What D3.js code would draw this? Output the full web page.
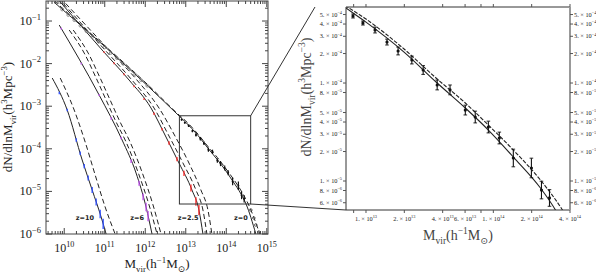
<!DOCTYPE html>
<html><head><meta charset="utf-8">
<script src="https://cdn.jsdelivr.net/npm/d3@7"></script>
<style>body{margin:0;background:#fff}svg{display:block}</style>
</head><body>
<script>
// ---------- DATA (log10 M [h^-1 Msun], log10 dN/dlnM [h^3 Mpc^-3]) ----------
const z10Solid  = [[9.704,-2.339],[10.074,-3.090],[10.443,-4.263],[10.690,-4.967],[10.911,-5.601],[11.034,-6.0]];
const z10Dash   = [[9.901,-2.339],[10.246,-3.090],[10.517,-3.841],[10.764,-4.615],[11.010,-5.366],[11.256,-6.0]];
const z6Solid   = [[9.877,-1.095],[10.862,-2.738],[11.429,-3.794],[11.773,-4.568],[12.020,-5.366],[12.167,-6.0]];
const z6DashA   = [[10.123,-1.212],[10.493,-1.752],[10.788,-2.339],[11.034,-2.855],[11.281,-3.371],[11.527,-3.841],[11.847,-4.615],[12.094,-5.319],[12.291,-6.0]];
const z6DashB   = [[10.222,-1.212],[10.591,-1.752],[10.887,-2.339],[11.133,-2.855],[11.379,-3.371],[11.626,-3.841],[11.946,-4.615],[12.192,-5.319],[12.389,-6.0]];
const z25Solid  = [[9.80,-0.44],[9.926,-0.578],[10.936,-1.682],[11.601,-2.386],[12.143,-3.043],[12.512,-3.723],[12.833,-4.334],[13.153,-4.967],[13.325,-5.437],[13.424,-6.0]];
const z25DashA  = [[9.85,-0.45],[10.961,-1.634],[11.650,-2.362],[12.217,-3.043],[12.586,-3.700],[12.931,-4.334],[13.251,-4.967],[13.424,-5.437],[13.522,-6.0]];
const z25DashB  = [[9.90,-0.45],[11.059,-1.634],[11.773,-2.362],[12.340,-3.043],[12.734,-3.700],[13.079,-4.334],[13.374,-4.967],[13.547,-5.437],[13.645,-6.0]];
const z0Solid   = [[9.75,-0.56],[9.83,-0.625],[12.09,-2.55],[12.843,-3.235],[13.0,-3.378],[13.299,-3.684],[13.559,-4.0],[13.78,-4.255],[13.961,-4.48],[14.157,-4.755],[14.37,-5.071],[14.488,-5.296],[14.73,-6.0]];
const z0Dash    = [[9.75,-0.52],[9.83,-0.59],[12.09,-2.52],[12.843,-3.214],[13.0,-3.347],[13.299,-3.653],[13.559,-3.959],[13.78,-4.204],[13.961,-4.429],[14.157,-4.684],[14.37,-4.99],[14.543,-5.296],[14.828,-6.0]];

// simulation points
const z10M = [9.877,10.074,10.296,10.394,10.493,10.591,10.690,10.788,10.887,10.961];
const z10N = [-2.688,-3.090,-3.794,-4.106,-4.404,-4.686,-4.967,-5.249,-5.531,-5.761];
const z10E = [0.03,0.03,0.04,0.04,0.05,0.06,0.07,0.08,0.10,0.12];
const z6M  = [9.926,10.419,10.862,11.158,11.404,11.650,11.847,11.946,12.020,12.069];
const z6N  = [-1.177,-1.998,-2.738,-3.289,-3.747,-4.291,-4.808,-5.127,-5.366,-5.578];
const z6E  = [0.02,0.02,0.02,0.03,0.03,0.04,0.06,0.08,0.10,0.12];
const z25M = [10.985,11.232,11.478,11.724,11.970,12.217,12.414,12.586,12.783,12.956,13.128,13.251,13.325];
const z25N = [-1.733,-1.994,-2.254,-2.536,-2.834,-3.179,-3.543,-3.864,-4.240,-4.578,-4.920,-5.235,-5.437];
const z25E = [0.02,0.02,0.02,0.02,0.02,0.03,0.03,0.04,0.05,0.06,0.08,0.10,0.12];
const z0LowM = [9.95,10.1,10.25,10.4,10.55,10.7,10.85,11.0,11.15,11.3,11.45,11.6,11.75,11.9,12.05];
const z0LowN = [-0.73,-0.86,-0.98,-1.11,-1.24,-1.37,-1.49,-1.62,-1.75,-1.87,-2.0,-2.13,-2.26,-2.39,-2.52];
const z0M  = [12.898,12.976,13.071,13.165,13.252,13.36,13.449,13.559,13.66,13.78,13.858,13.961,14.047,14.157,14.299,14.378,14.441];
const z0N  = [-3.316,-3.388,-3.459,-3.582,-3.673,-3.765,-3.867,-4.02,-4.07,-4.276,-4.347,-4.449,-4.561,-4.765,-4.867,-5.092,-5.173];
const z0E  = [0.02,0.02,0.03,0.03,0.04,0.04,0.045,0.05,0.05,0.05,0.06,0.06,0.06,0.09,0.10,0.09,0.085];
const z0TailM = [14.606,14.680,14.729,14.803];
const z0TailN = [-5.437,-5.624,-5.789,-5.953];

const zLabels = ["z=10","z=6","z=2.5","z=0"];
const zLabelM = [10.51,11.80,13.06,14.36];
const zLabelN = -5.67;

const leftYTicks = [-6,-5,-4,-3,-2,-1];
const leftXTicks = [10,11,12,13,14,15];
const rightYTicks = [[5,-4],[4,-4],[3,-4],[2,-4],[1,-4],[8,-5],[5,-5],[4,-5],[3,-5],[2,-5],[1,-5],[8,-6],[6,-6]];
const rightXLabels = [[1,13],[2,13],[4,13],[6,13],[1,14],[2,14],[4,14]];
const rightXTicks = [[8,12],[1,13],[2,13],[4,13],[6,13],[8,13],[1,14],[2,14],[4,14]];

// ---------- LAYOUT ----------
const W = 596, H = 273;
const serif = "'Liberation Serif','DejaVu Serif',serif";
const ink = "#222";
const svg = d3.select("body").append("svg").attr("width", W).attr("height", H);

const xL = d3.scaleLog().domain([10**9.55, 10**15.03]).range([46, 268]);
const yL = d3.scaleLog().domain([1e-6, 10**-0.53]).range([234, 1]);
const xR = d3.scaleLog().domain([10**12.843, 4e14]).range([346, 570]);
const yR = d3.scaleLog().domain([5.06e-6, 5.97e-4]).range([210, 7]);

const P = v => Math.pow(10, v);

function richText(g, parts, fs) {
  let shift = 0;
  parts.forEach(p => {
    const target = p.s === "sup" ? -fs*0.42 : p.s === "sub" ? fs*0.28 : 0;
    const t = g.append("tspan").attr("dy", target - shift).text(p.t);
    if (p.s) t.attr("font-size", fs*0.68);
    shift = target;
  });
}

svg.append("defs").call(d => {
  d.append("clipPath").attr("id","clipL").append("rect")
    .attr("x",46).attr("y",1).attr("width",222).attr("height",233);
  d.append("clipPath").attr("id","clipR").append("rect")
    .attr("x",346).attr("y",7).attr("width",224).attr("height",203);
});

// ---------- LEFT PANEL ----------
const gL = svg.append("g");
const plotL = gL.append("g").attr("clip-path","url(#clipL)");
const lineL = d3.line().x(d => xL(P(d[0]))).y(d => yL(P(d[1]))).curve(d3.curveMonotoneX);

function drawCurve(g, line, data, dashed) {
  g.append("path").attr("d", line(data)).attr("fill","none").attr("stroke", ink)
    .attr("stroke-width", 1).attr("stroke-dasharray", dashed ? "5,3" : null);
}
[[z10Solid,0],[z10Dash,1],[z6Solid,0],[z6DashA,1],[z6DashB,1],[z25Solid,0],[z25DashA,1],[z25DashB,1],[z0Solid,0],[z0Dash,1]]
  .forEach(([d,ds]) => drawCurve(plotL, lineL, d, ds));

function errBars(g, xs, ys, M, N, E, color, w) {
  M.forEach((m,i) => {
    g.append("line").attr("x1", xs(P(m))).attr("x2", xs(P(m)))
      .attr("y1", ys(P(N[i]+E[i]))).attr("y2", ys(P(N[i]-E[i])))
      .attr("stroke", color).attr("stroke-width", w);
  });
}
errBars(plotL, xL, yL, z10M, z10N, z10E, "#2b4cff", 1.3);
errBars(plotL, xL, yL, z6M, z6N, z6E, "#c050f0", 1.3);
errBars(plotL, xL, yL, z25M, z25N, z25E, "#ff2a2a", 1.3);
plotL.selectAll(".c0").data(z0LowM).enter().append("circle")
  .attr("cx", d => xL(P(d))).attr("cy", (d,i) => yL(P(z0LowN[i]))).attr("r", 1.4)
  .attr("fill","none").attr("stroke","#777").attr("stroke-width",0.8);
errBars(plotL, xL, yL, z0M, z0N, z0E, "#111", 1.2);
plotL.selectAll(".c1").data(z0M).enter().append("circle")
  .attr("cx", d => xL(P(d))).attr("cy", (d,i) => yL(P(z0N[i]))).attr("r", 1).attr("fill","#111");
plotL.selectAll(".c2").data(z0TailM).enter().append("circle")
  .attr("cx", d => xL(P(d))).attr("cy", (d,i) => yL(P(z0TailN[i]))).attr("r", 1.3)
  .attr("fill","none").attr("stroke","#444").attr("stroke-width",0.8);

zLabels.forEach((t,i) => {
  gL.append("text").attr("x", xL(P(zLabelM[i]))).attr("y", yL(P(zLabelN)))
    .attr("text-anchor","middle").attr("font-family","'DejaVu Sans',sans-serif")
    .attr("font-weight","bold").attr("font-size",6.5).attr("fill",ink).text(t);
});

// frame
gL.append("rect").attr("x",46).attr("y",1).attr("width",222).attr("height",233)
  .attr("fill","none").attr("stroke","#444").attr("stroke-width",1);

// ticks left panel (inward, all sides)
const [xl0,xl1] = xL.range(), [yl0,yl1] = yL.range();
function tickL(v, major, horiz) {
  const len = major ? 6 : 3;
  if (horiz) {
    const x = xL(v);
    gL.append("line").attr("x1",x).attr("x2",x).attr("y1",yl0).attr("y2",yl0-len).attr("stroke","#444");
    gL.append("line").attr("x1",x).attr("x2",x).attr("y1",yl1).attr("y2",yl1+len).attr("stroke","#444");
  } else {
    const y = yL(v);
    gL.append("line").attr("x1",xl0).attr("x2",xl0+len).attr("y1",y).attr("y2",y).attr("stroke","#444");
    gL.append("line").attr("x1",xl1).attr("x2",xl1-len).attr("y1",y).attr("y2",y).attr("stroke","#444");
  }
}
for (let e = 9; e <= 15; e++) for (let k = 1; k <= 9; k++) {
  const v = k * P(e);
  if (v >= xL.domain()[0] && v <= xL.domain()[1]) tickL(v, k === 1, true);
}
for (let e = -6; e <= 0; e++) for (let k = 1; k <= 9; k++) {
  const v = k * P(e);
  if (v >= yL.domain()[0]*0.999 && v <= yL.domain()[1]) tickL(v, k === 1, false);
}
leftYTicks.forEach(e => {
  const t = gL.append("text").attr("x", 41).attr("y", yL(P(e)) + 4)
    .attr("text-anchor","end").attr("font-family",serif).attr("font-size",12.5).attr("fill",ink);
  richText(t, [{t:"10"},{t:"−"+(-e),s:"sup"}], 12.5);
});
leftXTicks.forEach(e => {
  const t = gL.append("text").attr("x", xL(P(e))).attr("y", 252)
    .attr("text-anchor","middle").attr("font-family",serif).attr("font-size",12).attr("fill",ink);
  richText(t, [{t:"10"},{t:String(e),s:"sup"}], 12);
});
{
  const t = gL.append("text").attr("x", 157).attr("y", 268).attr("text-anchor","middle")
    .attr("font-family",serif).attr("font-size",13).attr("fill",ink);
  richText(t, [{t:"M"},{t:"vir",s:"sub"},{t:"(h"},{t:"−1",s:"sup"},{t:"M"},{t:"⊙",s:"sub"},{t:")"}], 13);
  const ty = gL.append("text").attr("transform","translate(12,117) rotate(-90)").attr("text-anchor","middle")
    .attr("font-family",serif).attr("font-size",13).attr("fill",ink);
  richText(ty, [{t:"dN/dlnM"},{t:"vir",s:"sub"},{t:"(h"},{t:"3",s:"sup"},{t:"Mpc"},{t:"−3",s:"sup"},{t:")"}], 13);
}

// zoom box & connectors
const bx0 = xL(xR.domain()[0]), bx1 = xL(xR.domain()[1]);
const by0 = yL(yR.domain()[1]), by1 = yL(yR.domain()[0]);
svg.append("rect").attr("x",bx0).attr("y",by0).attr("width",bx1-bx0).attr("height",by1-by0)
  .attr("fill","none").attr("stroke","#333").attr("stroke-width",1);
svg.append("line").attr("x1",bx1).attr("y1",by0).attr("x2",xR.range()[0]-31).attr("y2",yR.range()[1])
  .attr("stroke","#333").attr("stroke-width",1);
svg.append("line").attr("x1",bx1).attr("y1",by1).attr("x2",xR.range()[0]).attr("y2",yR.range()[0])
  .attr("stroke","#333").attr("stroke-width",1);

// ---------- RIGHT PANEL ----------
const gR = svg.append("g");
const plotR = gR.append("g").attr("clip-path","url(#clipR)");
const lineR = d3.line().x(d => xR(P(d[0]))).y(d => yR(P(d[1]))).curve(d3.curveMonotoneX);
plotR.append("path").attr("d", lineR(z0Solid)).attr("fill","none").attr("stroke",ink).attr("stroke-width",1.1);
plotR.append("path").attr("d", lineR(z0Dash)).attr("fill","none").attr("stroke",ink).attr("stroke-width",1.1).attr("stroke-dasharray","4,1.5");
z0M.forEach((m,i) => {
  const x = xR(P(m)), yt = yR(P(z0N[i]+z0E[i])), yb = yR(P(z0N[i]-z0E[i]));
  plotR.append("line").attr("x1",x).attr("x2",x).attr("y1",yt).attr("y2",yb).attr("stroke","#111").attr("stroke-width",1.1);
  [yt,yb].forEach(y => plotR.append("line").attr("x1",x-1.8).attr("x2",x+1.8).attr("y1",y).attr("y2",y).attr("stroke","#111").attr("stroke-width",0.9));
  plotR.append("circle").attr("cx",x).attr("cy",yR(P(z0N[i]))).attr("r",1.6).attr("fill","#111");
});
const [xr0,xr1] = xR.range(), [yr0,yr1] = yR.range();
gR.append("line").attr("x1",xr0).attr("x2",xr1).attr("y1",yr1).attr("y2",yr1).attr("stroke","#333");
gR.append("line").attr("x1",xr0).attr("x2",xr1).attr("y1",yr0).attr("y2",yr0).attr("stroke","#333");
gR.append("line").attr("x1",xr0).attr("x2",xr0).attr("y1",yr1).attr("y2",yr0).attr("stroke","#333");
gR.append("line").attr("x1",xr1).attr("x2",xr1).attr("y1",yr1).attr("y2",yr0).attr("stroke","#999").attr("stroke-width",2);

rightXTicks.forEach(([k,e]) => {
  const x = xR(k*P(e));
  gR.append("line").attr("x1",x).attr("x2",x).attr("y1",yr0).attr("y2",yr0+3).attr("stroke","#555");
  gR.append("line").attr("x1",x).attr("x2",x).attr("y1",yr1).attr("y2",yr1-3).attr("stroke","#555");
});
const tfs = 6.3;
rightXLabels.forEach(([k,e]) => {
  const t = gR.append("text").attr("x", xR(k*P(e))).attr("y", yr0+11).attr("text-anchor","middle")
    .attr("font-family",serif).attr("font-size",tfs).attr("fill",ink);
  richText(t, [{t:k+". × 10"},{t:String(e),s:"sup"}], tfs);
});
rightYTicks.forEach(([k,e]) => {
  const y = yR(k*P(e));
  gR.append("line").attr("x1",xr0-3).attr("x2",xr0).attr("y1",y).attr("y2",y).attr("stroke","#555");
  gR.append("line").attr("x1",xr1).attr("x2",xr1+3).attr("y1",y).attr("y2",y).attr("stroke","#555");
  const tl = gR.append("text").attr("x", xr0-4).attr("y", y+2).attr("text-anchor","end")
    .attr("font-family",serif).attr("font-size",tfs).attr("fill",ink);
  richText(tl, [{t:k+". × 10"},{t:"−"+(-e),s:"sup"}], tfs);
  const tr = gR.append("text").attr("x", xr1+4).attr("y", y+2).attr("text-anchor","start")
    .attr("font-family",serif).attr("font-size",tfs).attr("fill",ink);
  richText(tr, [{t:k+". × 10"},{t:"−"+(-e),s:"sup"}], tfs);
});
{
  const t = gR.append("text").attr("x", (xr0+xr1)/2).attr("y", 240).attr("text-anchor","middle")
    .attr("font-family",serif).attr("font-size",14).attr("fill","#444");
  richText(t, [{t:"M"},{t:"vir",s:"sub"},{t:"(h"},{t:"−1",s:"sup"},{t:"M"},{t:"⊙",s:"sub"},{t:")"}], 14);
  const ty = gR.append("text").attr("transform","translate(311,97) rotate(-90)").attr("text-anchor","middle")
    .attr("font-family",serif).attr("font-size",14).attr("fill","#444");
  richText(ty, [{t:"dN/dlnM"},{t:"vir",s:"sub"},{t:"(h"},{t:"3",s:"sup"},{t:"Mpc"},{t:"−3",s:"sup"},{t:")"}], 14);
}
</script>
</body></html>
